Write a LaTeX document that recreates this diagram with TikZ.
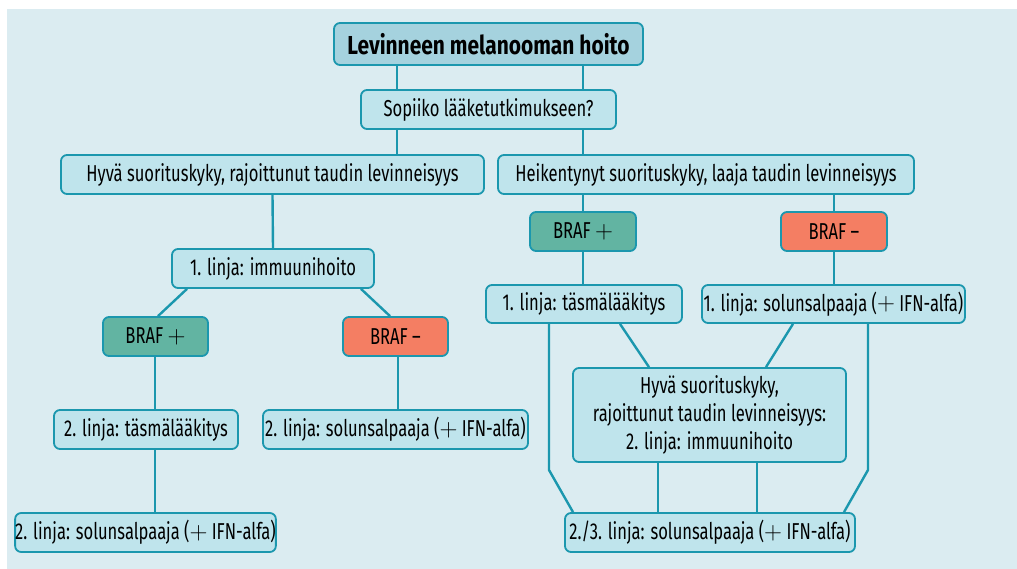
\documentclass[tikz,border=0pt]{standalone}
\usepackage{fontspec}
\setmainfont{Fira Sans}[FakeStretch=0.72,BoldFeatures={FakeStretch=0.805}]
\definecolor{panel}{HTML}{DBECF1}
\definecolor{boxfill}{HTML}{BFE4EC}
\definecolor{titlefill}{HTML}{A5D2DE}
\definecolor{edge}{HTML}{1B97AE}
\definecolor{brafplus}{HTML}{62B4A2}
\definecolor{brafminus}{HTML}{F47E63}
\newcommand{\pls}{\raisebox{0.5pt}{$+$}}
\begin{document}
\begin{tikzpicture}[x=1pt,y=-1pt,
  box/.style={draw=edge, line width=1.8pt, fill=boxfill, rounded corners=6pt,
    inner sep=0pt, align=center, font=\fontsize{23}{27}\selectfont, text=black,
    minimum height=39pt},
  titlebox/.style={box, fill=titlefill, minimum height=42pt, font=\bfseries\fontsize{26}{30}\selectfont},
  plusbox/.style={box, fill=brafplus},
  minusbox/.style={box, fill=brafminus},
  conn/.style={draw=edge, line width=2.4pt}]
\useasboundingbox (0,0) rectangle (1017,569);
\fill[white] (0,0) rectangle (1017,569);
\fill[panel] (7,9) rectangle (1017,569);

\node[titlebox, minimum width=309pt] (title) at (488.5,44) {Levinneen melanooman hoito};
\node[box, minimum width=255pt] (q) at (488.5,109.5) {Sopiiko lääketutkimukseen?};
\node[box, minimum width=423pt] (L) at (272.5,174.5) {Hyvä suorituskyky, rajoittunut taudin levinneisyys};
\node[box, minimum width=416pt] (R) at (706,174.5) {Heikentynyt suorituskyky, laaja taudin levinneisyys};

\node[box, minimum width=202pt] (L1) at (273,268.5) {1. linja: immuunihoito};
\node[plusbox, minimum width=105pt] (LBp) at (155.5,336.5) {BRAF \pls};
\node[minusbox, minimum width=105pt] (LBm) at (395.5,336.5) {BRAF –};
\node[box, minimum width=184pt] (L2a) at (146,429.5) {2. linja: täsmälääkitys};
\node[box, minimum width=265pt] (L2b) at (395.5,429.5) {2. linja: solunsalpaaja (\pls\ IFN-alfa)};
\node[box, minimum width=255pt] (L3) at (145.5,532.5) {2. linja: solunsalpaaja (\pls\ IFN-alfa)};

\node[plusbox, minimum width=106pt] (RBp) at (583,231.5) {BRAF \pls};
\node[minusbox, minimum width=106pt] (RBm) at (834,231.5) {BRAF –};
\node[box, minimum width=196pt, minimum height=38pt] (R1a) at (584,304) {1. linja: täsmälääkitys};
\node[box, minimum width=263pt, minimum height=38pt] (R1b) at (833.5,304) {1. linja: solunsalpaaja (\pls\ IFN-alfa)};
\node[box, minimum width=273pt, minimum height=94pt, font=\fontsize{23}{28}\selectfont] (M) at (709.5,415)
  {Hyvä suorituskyky,\\rajoittunut taudin levinneisyys:\\2. linja: immuunihoito};
\node[box, minimum width=290pt] (B) at (710,532.5) {2./3. linja: solunsalpaaja (\pls\ IFN-alfa)};

\coordinate (xa) at (397,0);
\coordinate (xb) at (583,0);
\coordinate (xc) at (155,0);
\coordinate (xd) at (398,0);
\coordinate (xe) at (834,0);
\coordinate (xf) at (549,0);
\coordinate (xg) at (868,0);
\coordinate (xh) at (658,0);
\coordinate (xi) at (757,0);
\coordinate (kl) at (549,470);
\coordinate (kr) at (868,470);

\draw[conn] (title.south -| xa) -- (q.north -| xa);
\draw[conn] (title.south -| xb) -- (q.north -| xb);
\draw[conn] (q.south -| xa) -- (L.north -| xa);
\draw[conn] (q.south -| xb) -- (R.north -| xb);

\draw[conn] (L.south) -- (L1.north);
\draw[conn] ([xshift=-86pt]L1.south) -- ([xshift=2.5pt]LBp.north);
\draw[conn] ([xshift=88pt]L1.south) -- ([xshift=-5.5pt]LBm.north);
\draw[conn] (LBp.south -| xc) -- (L2a.north -| xc);
\draw[conn] (LBm.south -| xd) -- (L2b.north -| xd);
\draw[conn] (L2a.south -| xc) -- (L3.north -| xc);

\draw[conn] (R.south -| xb) -- (RBp.north -| xb);
\draw[conn] (R.south -| xe) -- (RBm.north -| xe);
\draw[conn] (RBp.south -| xb) -- (R1a.north -| xb);
\draw[conn] (RBm.south -| xe) -- (R1b.north -| xe);

\draw[conn] ([xshift=36pt]R1a.south) -- ([xshift=-60.5pt]M.north);
\draw[conn] ([xshift=-40.5pt]R1b.south) -- ([xshift=56.5pt]M.north);
\draw[conn] (R1a.south -| xf) -- (kl) -- ([xshift=-137pt]B.north);
\draw[conn] (R1b.south -| xg) -- (kr) -- ([xshift=134pt]B.north);
\draw[conn] (M.south -| xh) -- (B.north -| xh);
\draw[conn] (M.south -| xi) -- (B.north -| xi);
\end{tikzpicture}
\end{document}
